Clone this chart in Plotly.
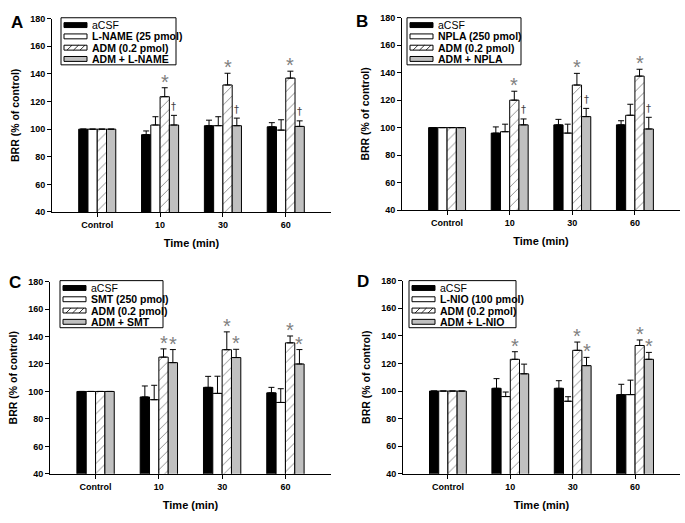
import plotly.graph_objects as go

W, H = 685, 523

categories = ["Control", "10", "30", "60"]
series_names_A = ["aCSF", "L-NAME (25 pmol)", "ADM (0.2 pmol)", "ADM + L-NAME"]
series_names_B = ["aCSF", "NPLA (250 pmol)", "ADM (0.2 pmol)", "ADM + NPLA"]
series_names_C = ["aCSF", "SMT (250 pmol)", "ADM (0.2 pmol)", "ADM + SMT"]
series_names_D = ["aCSF", "L-NIO (100 pmol)", "ADM (0.2 pmol)", "ADM + L-NIO"]

# Panel A
aCSF_A = [100, 96, 102.5, 101.7]
aCSF_A_err = [0, 2.7, 4, 3]
LNAME_A = [100, 103, 102.5, 99.3]
LNAME_A_err = [0, 6, 6.5, 7.5]
ADM_A = [100, 123.5, 132, 137]
ADM_A_err = [0, 6.5, 8.5, 5]
combo_A = [100, 103, 102.5, 102]
combo_A_err = [0, 7, 5.5, 4]

# Panel B
aCSF_B = [100, 96, 102, 102]
aCSF_B_err = [0, 4.5, 4, 3]
NPLA_B = [100, 97, 96, 109]
NPLA_B_err = [0, 5.5, 6.5, 8]
ADM_B = [100, 120, 131, 137.5]
ADM_B_err = [0, 6.5, 8.5, 5]
combo_B = [100, 102, 108, 99]
combo_B_err = [0, 4.3, 6, 8.5]

# Panel C
aCSF_C = [100, 96, 103, 99]
aCSF_C_err = [0, 8, 8, 4]
SMT_C = [100, 94, 98.6, 92]
SMT_C_err = [0, 10.5, 12.5, 10]
ADM_C = [100, 125, 130.4, 135.4]
ADM_C_err = [0, 6, 13, 5]
combo_C = [100, 121, 124.7, 120]
combo_C_err = [0, 9.5, 6, 10.5]

# Panel D
aCSF_D = [100, 102, 102, 97.4]
aCSF_D_err = [0, 7, 5.5, 7.5]
LNIO_D = [100, 96, 92.6, 97.4]
LNIO_D_err = [0, 3.3, 3.3, 10.5]
ADM_D = [100, 123, 129.5, 133]
ADM_D_err = [0, 5.5, 6, 4]
combo_D = [100, 112.5, 118.4, 123]
combo_D_err = [0, 7, 6, 5]

# significance marks: (series index, category index, symbol)
marks_A = [(2, 1, "*"), (2, 2, "*"), (2, 3, "*"), (3, 1, "†"), (3, 2, "†"), (3, 3, "†")]
marks_B = [(2, 1, "*"), (2, 2, "*"), (2, 3, "*"), (3, 1, "†"), (3, 2, "†"), (3, 3, "†")]
marks_C = [(2, 1, "*"), (2, 2, "*"), (2, 3, "*"), (3, 1, "*"), (3, 2, "*"), (3, 3, "*")]
marks_D = [(2, 1, "*"), (2, 2, "*"), (2, 3, "*"), (3, 2, "*"), (3, 3, "*")]

panels = [
    dict(letter="A", names=series_names_A,
         vals=[aCSF_A, LNAME_A, ADM_A, combo_A],
         errs=[aCSF_A_err, LNAME_A_err, ADM_A_err, combo_A_err],
         marks=marks_A, px=(52, 331), py=(14, 211), leg=(61, 13, 176), lab=(17, 18)),
    dict(letter="B", names=series_names_B,
         vals=[aCSF_B, NPLA_B, ADM_B, combo_B],
         errs=[aCSF_B_err, NPLA_B_err, ADM_B_err, combo_B_err],
         marks=marks_B, px=(402, 680), py=(13, 209), leg=(407, 13, 521), lab=(362, 17)),
    dict(letter="C", names=series_names_C,
         vals=[aCSF_C, SMT_C, ADM_C, combo_C],
         errs=[aCSF_C_err, SMT_C_err, ADM_C_err, combo_C_err],
         marks=marks_C, px=(50, 331), py=(282, 478), leg=(60, 281, 163), lab=(15, 283)),
    dict(letter="D", names=series_names_D,
         vals=[aCSF_D, LNIO_D, ADM_D, combo_D],
         errs=[aCSF_D_err, LNIO_D_err, ADM_D_err, combo_D_err],
         marks=marks_D, px=(403, 680), py=(281, 478), leg=(409, 281, 516), lab=(363, 282)),
]

GRAY = "#c0c0c0"
FONT = "Liberation Sans, Arial, sans-serif"
GROUP = 0.59
NB = 4
BW = GROUP / NB


def fx(p):
    return p / W


def fy(p):
    return 1 - p / H


styles = [
    dict(marker=dict(color="black", line=dict(color="black", width=1))),
    dict(marker=dict(color="white", line=dict(color="black", width=1))),
    dict(marker=dict(color="white", line=dict(color="black", width=1),
                     pattern=dict(shape="/", fgcolor="black", bgcolor="white",
                                  size=7, solidity=0.12))),
    dict(marker=dict(color=GRAY, line=dict(color="black", width=1))),
]
swatch_fill = ["black", "white", "white", GRAY]

fig = go.Figure()
layout = dict(width=W, height=H, margin=dict(l=0, r=0, t=0, b=0),
              paper_bgcolor="white", plot_bgcolor="white",
              barmode="group", bargap=1 - GROUP, bargroupgap=0, showlegend=False,
              font=dict(family=FONT, color="black"), annotations=[], shapes=[])

xpos = list(range(len(categories)))

for pi, p in enumerate(panels):
    sfx = "" if pi == 0 else str(pi + 1)
    xa, ya = "x" + sfx, "y" + sfx
    for si in range(NB):
        fig.add_trace(go.Bar(
            x=xpos, y=p["vals"][si], name=p["names"][si], xaxis=xa, yaxis=ya,
            error_y=dict(type="data", symmetric=False, array=p["errs"][si],
                         arrayminus=[0] * len(categories),
                         color="black", thickness=1, width=3),
            **styles[si]))
    x0, x1 = p["px"]
    y0, y1 = p["py"]
    layout["xaxis" + sfx] = dict(
        domain=[fx(x0), fx(x1)], anchor=ya, range=[-0.72, 3.72],
        tickmode="array", tickvals=xpos, ticktext=["<b>%s</b>" % c for c in categories],
        ticks="outside", ticklen=4, tickcolor="black",
        showline=True, linecolor="black", linewidth=1, showgrid=False, zeroline=False,
        tickfont=dict(size=9, family=FONT),
        title=dict(text="<b>Time (min)</b>", font=dict(size=11, family=FONT), standoff=10))
    layout["yaxis" + sfx] = dict(
        domain=[fy(y1), fy(y0)], anchor=xa, range=[40, 180],
        tickmode="array", tickvals=list(range(40, 181, 20)),
        ticktext=["<b>%d</b>" % v for v in range(40, 181, 20)],
        ticks="outside", ticklen=4, tickcolor="black",
        showline=True, linecolor="black", linewidth=1, showgrid=False, zeroline=False,
        tickfont=dict(size=9, family=FONT),
        title=dict(text="<b>BRR (% of control)</b>", font=dict(size=10.5, family=FONT), standoff=8))

    # legend box (drawn manually to match the compact original)
    lx, ly, rx = p["leg"]
    layout["shapes"].append(dict(type="rect", xref="paper", yref="paper",
                                 x0=fx(lx), x1=fx(rx), y0=fy(ly + 48), y1=fy(ly),
                                 line=dict(color="black", width=1), fillcolor="white",
                                 layer="above"))
    for si in range(NB):
        cy = ly + 7.5 + 11.5 * si
        sx0, sx1 = lx + 3, lx + 26
        layout["shapes"].append(dict(type="rect", xref="paper", yref="paper",
                                     x0=fx(sx0), x1=fx(sx1), y0=fy(cy + 2.5), y1=fy(cy - 2.5),
                                     line=dict(color="black", width=1),
                                     fillcolor=swatch_fill[si], layer="above"))
        if si == 2:
            for k in range(3):
                hx = sx0 + 3 + 6.5 * k
                layout["shapes"].append(dict(type="line", xref="paper", yref="paper",
                                             x0=fx(hx), x1=fx(hx + 5),
                                             y0=fy(cy + 2.5), y1=fy(cy - 2.5),
                                             line=dict(color="black", width=0.8),
                                             layer="above"))
        nm = p["names"][si]
        layout["annotations"].append(dict(
            text=nm if si == 0 else "<b>%s</b>" % nm, xref="paper", yref="paper",
            x=fx(lx + 29), y=fy(cy), xanchor="left", yanchor="middle",
            showarrow=False, font=dict(size=10.5, family=FONT, color="black")))

    # panel letter
    layout["annotations"].append(dict(
        text="<b>%s</b>" % p["letter"], xref="paper", yref="paper",
        x=fx(p["lab"][0]), y=fy(p["lab"][1]), xanchor="center", yanchor="middle",
        showarrow=False, font=dict(size=17, family=FONT, color="black")))
    # significance marks
    for si, ci, sym in p["marks"]:
        top = p["vals"][si][ci] + p["errs"][si][ci]
        off = (-1.5 + si) * BW
        if sym == "*":
            layout["annotations"].append(dict(
                text=sym, xref=xa, yref=ya, x=ci + off, y=top, yanchor="middle",
                yshift=6, showarrow=False,
                font=dict(size=20, family=FONT, color="#808080")))
        else:
            layout["annotations"].append(dict(
                text=sym, xref=xa, yref=ya, x=ci + off, y=top, yanchor="middle",
                yshift=9, showarrow=False,
                font=dict(size=10, family="DejaVu Sans", color="#404040")))

fig.update_layout(**layout)
fig.write_html("out.html", config={"displayModeBar": False},
               post_script="document.body.style.margin='0px';")
